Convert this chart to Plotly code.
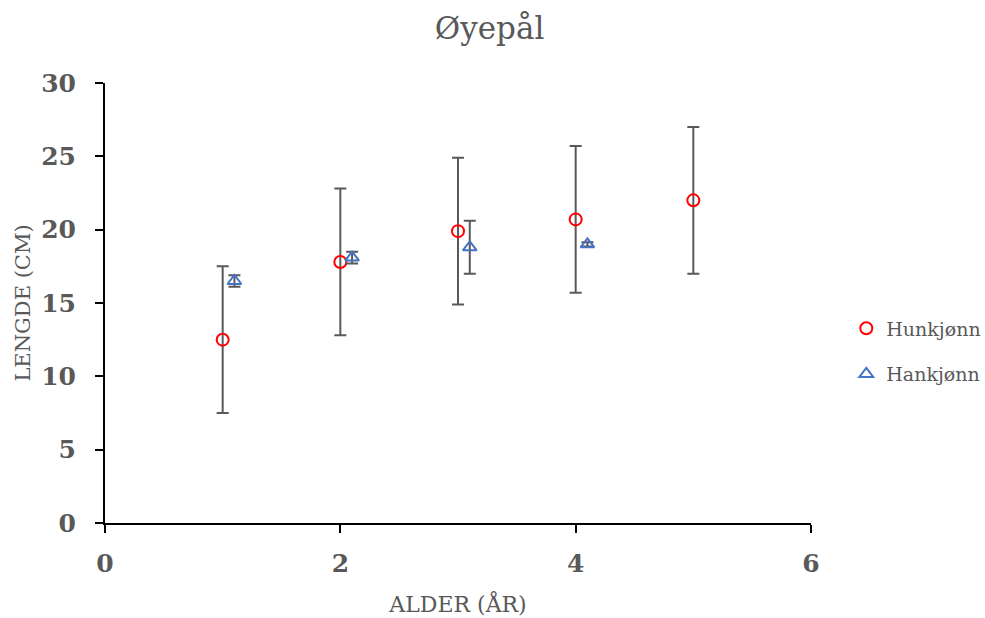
import plotly.graph_objects as go

# Gjennomsnittlig lengde (cm) per alder (år) med standardavvik
alder_hun = [1, 2, 3, 4, 5]
lengde_hun = [12.5, 17.8, 19.9, 20.7, 22.0]
sd_hun = [5.0, 5.0, 5.0, 5.0, 5.0]

alder_han = [1.1, 2.1, 3.1, 4.1]
lengde_han = [16.5, 18.1, 18.8, 19.0]
sd_han = [0.4, 0.4, 1.8, 0.15]

x_ticks = [0, 2, 4, 6]
y_ticks = [0, 5, 10, 15, 20, 25, 30]

FONT = "DejaVu Serif"
GREY = "#595959"
ERR = "#595959"

fig = go.Figure()

fig.add_trace(go.Scatter(
    x=alder_hun, y=lengde_hun, mode="markers", name="Hunkjønn",
    legendgroup="hun",
    marker=dict(symbol="circle-open", size=12, color="#FF0000",
                line=dict(width=2, color="#FF0000")),
    error_y=dict(type="data", array=sd_hun, visible=True,
                 color=ERR, thickness=2, width=6),
))

fig.add_trace(go.Scatter(
    x=alder_han, y=lengde_han, mode="markers", name="Hankjønn",
    legendgroup="han",
    marker=dict(symbol="triangle-up-open", size=12, color="#4472C4",
                line=dict(width=2, color="#4472C4")),
    error_y=dict(type="data", array=sd_han, visible=True,
                 color=ERR, thickness=2, width=6),
))

fig.update_layout(
    width=985, height=618,
    margin=dict(l=105, r=174, t=83, b=95, autoexpand=False),
    paper_bgcolor="white", plot_bgcolor="white",
    font=dict(family=FONT, color=GREY),
    title=dict(text="Øyepål", x=0.497, xref="container", xanchor="center",
               y=0.955, yanchor="middle",
               font=dict(family=FONT, size=31, color=GREY)),
    showlegend=True,
    legend=dict(x=1.050, xanchor="left", y=0.39, yanchor="middle",
                font=dict(family=FONT, size=19, color=GREY),
                tracegroupgap=18, itemwidth=30,
                bgcolor="rgba(0,0,0,0)"),
    xaxis=dict(
        range=[0, 6], tickvals=x_ticks, ticktext=[str(v) for v in x_ticks],
        showgrid=False, zeroline=False,
        showline=True, linecolor="black", linewidth=2,
        ticks="outside", ticklen=8, tickwidth=2, tickcolor="black",
        ticklabelstandoff=9,
        tickfont=dict(family=FONT, size=25, color=GREY, weight="bold"),
        title=dict(text="ALDER (ÅR)", standoff=20,
                   font=dict(family=FONT, size=22, color=GREY)),
    ),
    yaxis=dict(
        range=[0, 30], tickvals=y_ticks, ticktext=[str(v) for v in y_ticks],
        showgrid=False, zeroline=False,
        showline=True, linecolor="black", linewidth=2,
        ticks="outside", ticklen=8, tickwidth=2, tickcolor="black",
        ticklabelstandoff=14,
        tickfont=dict(family=FONT, size=25, color=GREY, weight="bold"),
        title=dict(text="LENGDE (CM)", standoff=5,
                   font=dict(family=FONT, size=21, color=GREY)),
    ),
)

fig.write_html("out.html")
